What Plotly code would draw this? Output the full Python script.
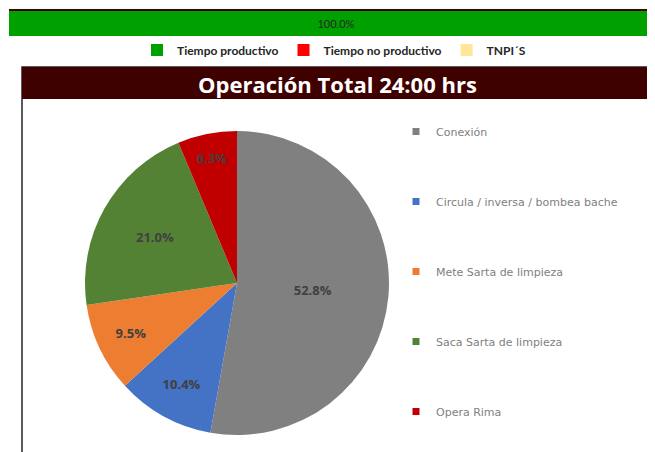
import plotly.graph_objects as go

# top bar: share of time by type
time_types = ["Tiempo productivo", "Tiempo no productivo", "TNPI´S"]
time_share = [100.0, 0.0, 0.0]
time_colors = ["#00A000", "#FF0000", "#FFE699"]

# pie: operations during the 24 h
operations = [
    "Conexión",
    "Circula / inversa / bombea bache",
    "Mete Sarta de limpieza",
    "Saca Sarta de limpieza",
    "Opera Rima",
]
op_share = [52.8, 10.4, 9.5, 21.0, 6.3]
op_colors = ["#808080", "#4472C4", "#ED7D31", "#548235", "#C00000"]

W, H = 655, 452
OFF = 8  # page body margin


def px_x(p):
    return (p - OFF) / W


def px_y(p):
    return 1 - (p - OFF) / H


fig = go.Figure()

for name, val, col in zip(time_types, time_share, time_colors):
    fig.add_trace(go.Bar(
        x=[val],
        y=["t"],
        orientation="h",
        name=name,
        marker=dict(color=col, line=dict(width=0)),
        text=[f"{val:.1f}%" if val > 0 else ""],
        textposition="inside",
        insidetextanchor="middle",
        textfont=dict(family="Lato", size=11, color="#262626"),
        legend="legend2",
        hoverinfo="skip",
    ))

fig.add_trace(go.Pie(
    labels=operations,
    values=op_share,
    sort=False,
    direction="clockwise",
    rotation=0,
    marker=dict(colors=op_colors, line=dict(width=0)),
    texttemplate="%{percent:.1%}",
    textposition="inside",
    insidetextorientation="horizontal",
    textfont=dict(family="Open Sans", size=13, color="#404040", weight="bold"),
    domain=dict(x=[px_x(85), px_x(389)], y=[px_y(435), px_y(131)]),
    showlegend=False,
))

# legend entries for the pie, one group each so they can be spaced out
for name, col in zip(operations, op_colors):
    fig.add_trace(go.Scatter(
        x=[None], y=[None],
        mode="markers",
        name=name,
        legendgroup=name,
        marker=dict(symbol="square", size=7, color=col),
        xaxis="x2", yaxis="y2",
    ))

fig.update_layout(
    width=W,
    height=H,
    margin=dict(l=0, r=0, t=0, b=0),
    paper_bgcolor="white",
    plot_bgcolor="white",
    barmode="stack",
    bargap=0,
    xaxis=dict(domain=[px_x(9), 1], range=[0, 100], visible=False, fixedrange=True),
    yaxis=dict(domain=[px_y(36), px_y(11)], visible=False, fixedrange=True),
    xaxis2=dict(domain=[0.9, 1], visible=False, anchor="y2"),
    yaxis2=dict(domain=[0, 0.1], visible=False, anchor="x2"),
    legend=dict(
        x=px_x(396), y=px_y(117), xanchor="left", yanchor="top",
        tracegroupgap=51,
        font=dict(family="DejaVu Sans", size=11, color="#808080"),
        bgcolor="rgba(0,0,0,0)",
    ),
    legend2=dict(
        orientation="h",
        traceorder="normal",
        x=px_x(334), y=px_y(50), xanchor="center", yanchor="middle",
        font=dict(family="Lato", size=12, color="#262626", weight="bold"),
        itemwidth=30,
        bgcolor="rgba(0,0,0,0)",
    ),
    shapes=[
        dict(type="rect", xref="paper", yref="paper",
             x0=px_x(9), x1=1, y0=px_y(11), y1=px_y(9),
             fillcolor="#3F0000", line=dict(width=0)),
        dict(type="rect", xref="paper", yref="paper",
             x0=px_x(22), x1=px_x(653), y0=px_y(470), y1=px_y(67),
             fillcolor="rgba(0,0,0,0)", line=dict(color="#262626", width=1.5)),
        dict(type="rect", xref="paper", yref="paper",
             x0=px_x(22), x1=px_x(653), y0=px_y(99), y1=px_y(67),
             fillcolor="#3F0000", line=dict(width=0)),
    ],
    annotations=[
        dict(text="<b>Operación Total 24:00 hrs</b>", xref="paper", yref="paper",
             x=px_x(338), y=px_y(84), xanchor="center", yanchor="middle",
             showarrow=False, font=dict(family="Open Sans", size=22, color="white")),
    ],
)

fig.write_html("out.html")
